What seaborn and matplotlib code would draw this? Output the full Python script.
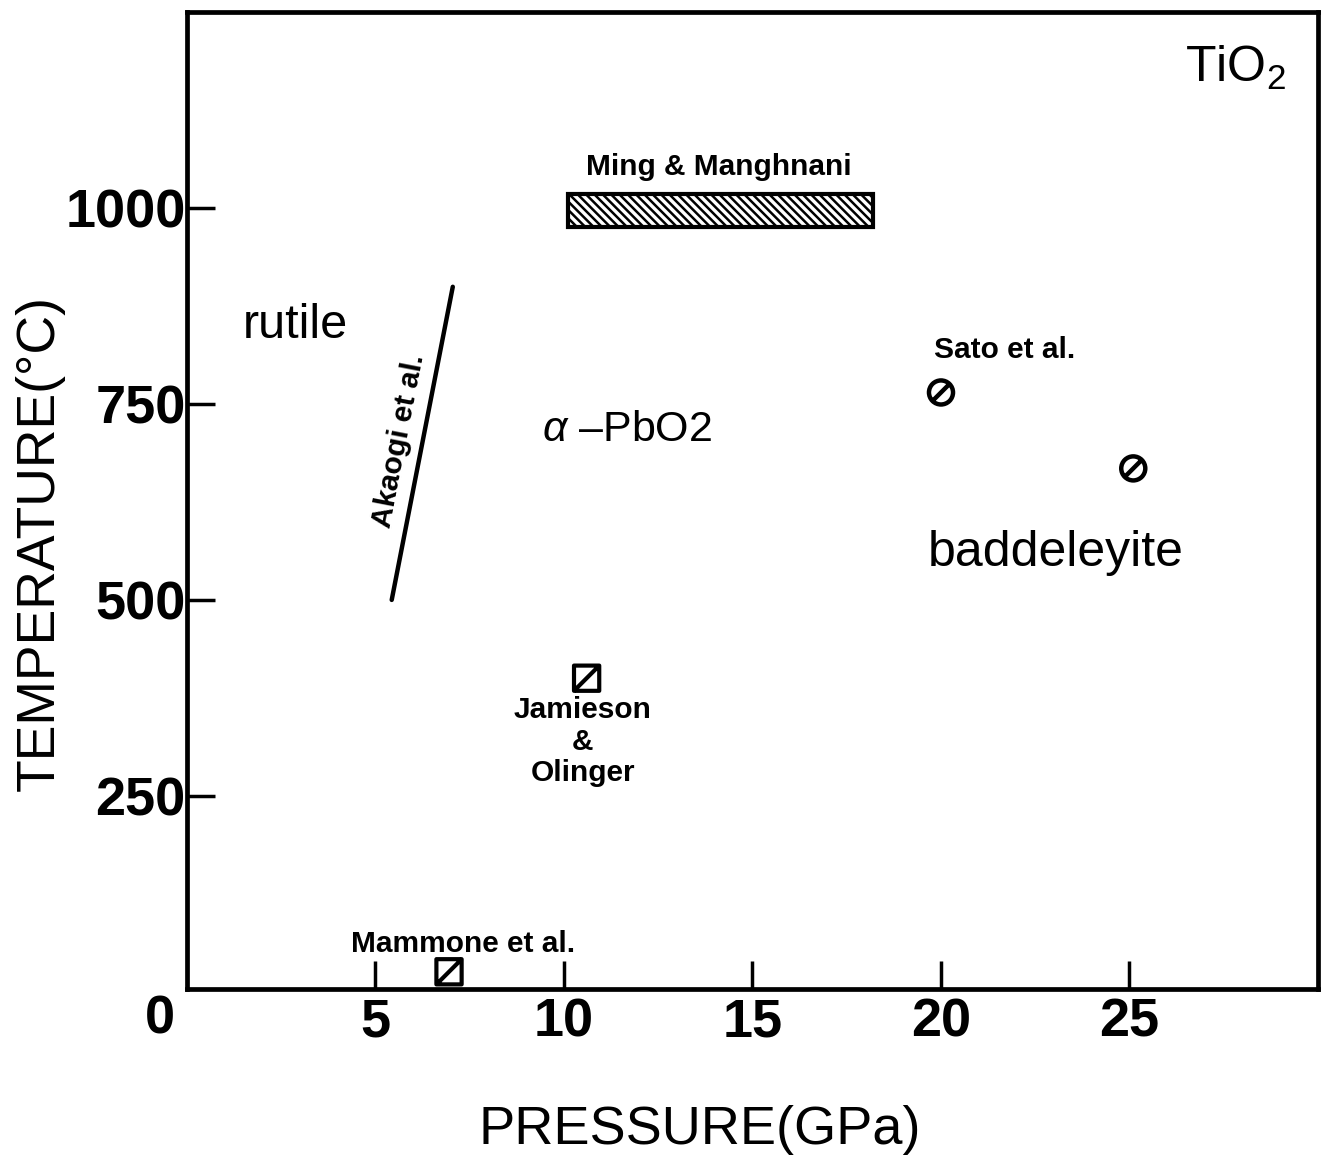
import numpy as np
import pandas as pd
import matplotlib
matplotlib.use("Agg")
import matplotlib.pyplot as plt
from matplotlib.path import Path
from matplotlib.patches import Rectangle
import seaborn as sns

# ---- data ---------------------------------------------------------------
# Akaogi et al. phase boundary (pressure GPa, temperature C)
akaogi_p = [5.43, 7.05]
akaogi_t = [500, 900]

# Ming & Manghnani pressure range at ~1000 C
ming_p = [10.1, 18.2]
ming_t = [977, 1019]

# Sato et al. points
sato_p = [20.0, 25.1]
sato_t = [765, 668]

# Jamieson & Olinger and Mammone et al. points
square_p = [10.6, 6.95]
square_t = [400, 25]

x_ticks = [5, 10, 15, 20, 25]
y_ticks = [250, 500, 750, 1000]

# ---- style --------------------------------------------------------------
sns.set_theme(style="white")
plt.rcParams["font.family"] = ["Liberation Sans", "DejaVu Sans"]
plt.rcParams["text.color"] = "black"
plt.rcParams["mathtext.fontset"] = "custom"
plt.rcParams["mathtext.rm"] = "Liberation Sans"
plt.rcParams["mathtext.it"] = "Liberation Sans:italic"
plt.rcParams["hatch.linewidth"] = 1.8
plt.rcParams["hatch.color"] = "black"

fig = plt.figure(figsize=(13.42, 11.60), dpi=100)
ax = fig.add_axes([187 / 1342, 1 - 989 / 1160, (1318 - 187) / 1342, (989 - 12) / 1160])

# custom markers: square with diagonal, circle with slash
sq = Path([(-1, -1), (1, -1), (1, 1), (-1, 1), (-1, -1), (-1, -1), (1, 1)],
          [Path.MOVETO, Path.LINETO, Path.LINETO, Path.LINETO, Path.CLOSEPOLY,
           Path.MOVETO, Path.LINETO])
circ = Path.unit_circle()
slash = Path([(-0.62, -0.62), (0.62, 0.62)], [Path.MOVETO, Path.LINETO])
circ_slash = Path.make_compound_path(circ, slash)

line_df = pd.DataFrame({"p": akaogi_p, "t": akaogi_t})
sns.lineplot(data=line_df, x="p", y="t", ax=ax, color="black", lw=3.2, sort=False)

sato_df = pd.DataFrame({"p": sato_p, "t": sato_t})
sns.scatterplot(data=sato_df, x="p", y="t", ax=ax, marker=circ_slash, s=300,
                facecolor="none", edgecolor="black", linewidth=3.2, zorder=5)

sq_df = pd.DataFrame({"p": square_p, "t": square_t})
sns.scatterplot(data=sq_df, x="p", y="t", ax=ax, marker=sq, s=330,
                facecolor="none", edgecolor="black", linewidth=3.0, zorder=5)

ax.add_patch(Rectangle((ming_p[0], ming_t[0]), ming_p[1] - ming_p[0],
                       ming_t[1] - ming_t[0], facecolor="white",
                       edgecolor="black", lw=3, hatch="\\\\\\\\", zorder=4))

ax.set_xlim(0, 30)
ax.set_ylim(3, 1251)
ax.set_xticks(x_ticks)
ax.set_yticks(y_ticks)
ax.set_xticklabels([str(v) for v in x_ticks], fontsize=39, fontweight="bold")
ax.set_yticklabels([str(v) for v in y_ticks], fontsize=39, fontweight="bold")
ax.tick_params(axis="both", direction="in", length=20, width=2.5, color="black",
               labelcolor="black", bottom=True, left=True)
ax.tick_params(axis="x", pad=6)
ax.tick_params(axis="y", pad=1)
for s in ax.spines.values():
    s.set_visible(True)
    s.set_color("black")
    s.set_linewidth(3.4)

ax.set_xlabel("")
ax.set_ylabel("")
fig.text(700 / 1342, 1 - 1130 / 1160, "PRESSURE(GPa)", fontsize=39,
         ha="center", va="center")
fig.text(40 / 1342, 1 - 543 / 1160, "TEMPERATURE(°C)", fontsize=38.5,
         ha="center", va="center", rotation=90)
fig.text(160 / 1342, 1 - 1020 / 1160, "0", fontsize=39, fontweight="bold",
         ha="center", va="center")

# annotations
small = dict(fontsize=21.5, fontweight="bold", ha="center", va="center")
ax.text(14.1, 1053, "Ming & Manghnani", **small)
ax.text(21.68, 819, "Sato et al.", **small)
ax.text(7.31, 61, "Mammone et al.", **small)
ax.text(10.5, 360, "Jamieson", **small)
ax.text(10.5, 319, "&", **small)
ax.text(10.5, 279, "Olinger", **small)
ax.text(5.62, 703, "Akaogi et al.", fontsize=21.5, fontweight="bold",
        ha="center", va="center", rotation=79)
ax.text(2.87, 851, "rutile", fontsize=35, ha="center", va="center")
ax.text(11.68, 717, r"$\alpha$ –PbO2", fontsize=31, ha="center", va="center")
ax.text(23.03, 560, "baddeleyite", fontsize=36, ha="center", va="center")
ax.text(27.8, 1179, r"TiO$_\mathregular{2}$", fontsize=36, ha="center",
        va="center")

fig.savefig("out.png", dpi=100)
